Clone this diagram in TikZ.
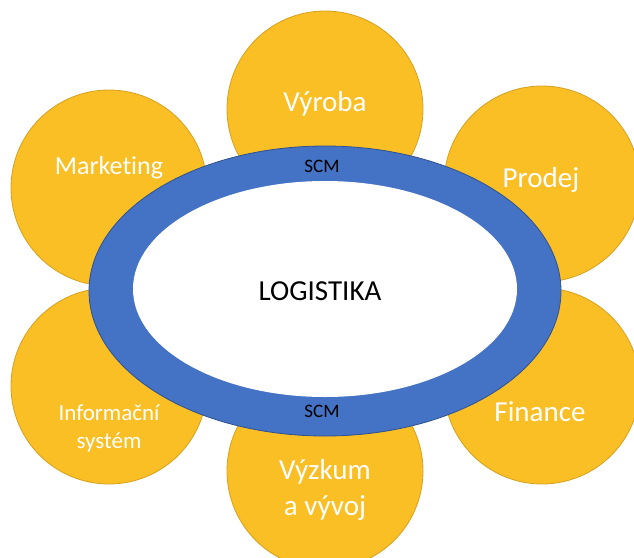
\documentclass[tikz,border=0pt]{standalone}
\usepackage{fontspec}
\setmainfont{Carlito}[Ligatures=NoCommon]
\usetikzlibrary{shapes.geometric}
\definecolor{petal}{RGB}{251,191,38}
\definecolor{petaledge}{RGB}{214,160,30}
\definecolor{ring}{RGB}{68,114,196}
\definecolor{ringedge}{RGB}{47,82,143}
\begin{document}
\begin{tikzpicture}[x=1pt, y=-1pt,
  petal/.style={circle, fill=petal, draw=petaledge, line width=0.8pt, minimum size=196pt, inner sep=0pt},
  label/.style={text=white, align=center, font=\fontsize{29}{36}\selectfont},
  scm/.style={text=black, font=\fontsize{19}{22}\selectfont}]
  \useasboundingbox (0, 0) rectangle (634, 557);
  % petals
  \node[petal] (vyroba) at (325, 109) {};
  \node[petal] (marketing) at (109, 188) {};
  \node[petal] (prodej) at (542, 184) {};
  \node[petal] (infosys) at (109, 386) {};
  \node[petal] (finance) at (542, 386) {};
  \node[petal] (vyzkum) at (325, 471) {};
  % SCM ring
  \node[ellipse, fill=ring, draw=ringedge, line width=0.8pt, minimum width=472pt, minimum height=290pt, inner sep=0pt] (scmring) at (325, 291) {};
  \node[ellipse, fill=white, minimum width=384pt, minimum height=216pt, inner sep=0pt] (logistika) at (325, 289) {};
  % texts
  \node[label] (vyrobatext) at (325, 104) {Výroba};
  \node[label, font=\fontsize{26}{32}\selectfont] (marketingtext) at (109, 168) {Marketing};
  \node[label] (prodejtext) at (541, 180) {Prodej};
  \node[label, font=\fontsize{23}{28}\selectfont] (infosystext) at (109, 428) {Informační\\systém};
  \node[label] (financetext) at (540, 412) {Finance};
  \node[label] (vyzkumtext) at (325, 490) {Výzkum\\a vývoj};
  \node[font=\fontsize{29}{36}\selectfont] (logistikatext) at (320, 291) {LOGISTIKA};
  \node[scm] (scmtop) at (322, 166) {SCM};
  \node[scm] (scmbottom) at (322, 411) {SCM};
\end{tikzpicture}
\end{document}
